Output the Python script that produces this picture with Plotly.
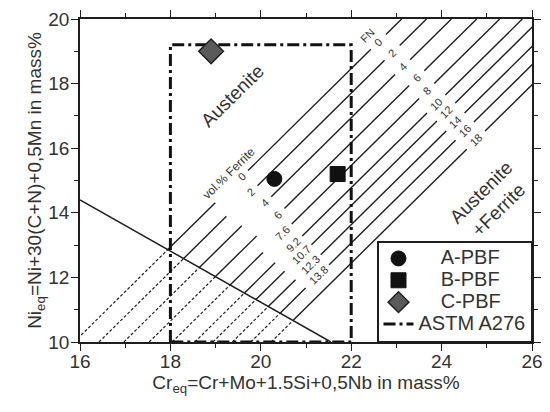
import plotly.graph_objects as go

# axis ranges
cr_range = [16, 26]
ni_range = [10, 20]

# iso-ferrite lines: Cr_eq where each line meets Ni_eq = 10, and the common slope
iso_cr_at_ni10 = [15.87, 16.42, 16.97, 17.53, 18.04, 18.54, 18.94, 19.37, 19.78, 20.23]
iso_slope = 1.38

fn_labels = ["0", "2", "4", "6", "8", "10", "12", "14", "16", "18"]
fn_label_ni = [19.29, 18.95, 18.51, 18.17, 17.77, 17.37, 17.12, 16.81, 16.53, 16.25]
vol_labels = ["0", "2", "4", "6", "7.6", "9.2", "10.7", "12.3", "13.8"]
vol_label_ni = [15.11, 14.64, 14.30, 13.93, 13.37, 13.00, 12.69, 12.38, 12.07]

# boundary line (iso lines are dashed below it)
boundary_cr = [16.0, 21.55]
boundary_ni = [14.4, 10.0]

# ASTM A276 window
astm_cr = [18, 18, 22, 22, 18]
astm_ni = [10, 19.2, 19.2, 10, 10]

samples = ["A-PBF", "B-PBF", "C-PBF"]
sample_cr = [20.3, 21.7, 18.9]
sample_ni = [15.05, 15.2, 19.0]

FONT = "Liberation Sans, Arial, sans-serif"
INK = "#1e1e1e"
TXT = "#333333"
ANG = -44.6

b_slope = (boundary_ni[1] - boundary_ni[0]) / (boundary_cr[1] - boundary_cr[0])


def iso_cr(k, ni):
    return iso_cr_at_ni10[k] + (ni - 10) / iso_slope


def boundary_cross(k):
    c = iso_cr_at_ni10[k]
    cr = (boundary_ni[0] - b_slope * boundary_cr[0] - 10 + iso_slope * c) / (iso_slope - b_slope)
    return 10 + iso_slope * (cr - c)


fig = go.Figure()

# iso-ferrite lines, dashed part below the boundary, gaps where the labels sit
dx, dy, sx, sy = [], [], [], []
for k in range(len(iso_cr_at_ni10)):
    nb = boundary_cross(k)
    dx += [iso_cr(k, 10), iso_cr(k, nb), None]
    dy += [10, nb, None]
    cuts = [nb]
    if k < len(vol_labels):
        v = vol_label_ni[k]
        cuts += [v - (0.80 - 0.05 * k), v + 0.16 + 0.04 * len(vol_labels[k])]
    f = fn_label_ni[k]
    g = 0.18 + 0.05 * len(fn_labels[k])
    cuts += [f - g, f + g, 20]
    for a, b in zip(cuts[0::2], cuts[1::2]):
        sx += [iso_cr(k, a), iso_cr(k, b), None]
        sy += [a, b, None]

fig.add_trace(go.Scatter(x=dx, y=dy, mode="lines", showlegend=False, hoverinfo="skip",
                         line=dict(color=INK, width=1.2, dash="3px,2px")))
fig.add_trace(go.Scatter(x=sx, y=sy, mode="lines", showlegend=False, hoverinfo="skip",
                         line=dict(color=INK, width=1.4)))
fig.add_trace(go.Scatter(x=boundary_cr, y=boundary_ni, mode="lines", showlegend=False,
                         hoverinfo="skip", line=dict(color=INK, width=1.5)))

# ASTM window
fig.add_trace(go.Scatter(x=astm_cr, y=astm_ni, mode="lines", legendrank=4,
                         name='<span style="font-size:20px">ASTM A276</span>',
                         line=dict(color="#111111", width=3, dash="12px,4px,3px,4px")))

# samples
marker_styles = [
    dict(symbol="circle", size=15, color="#111111", line=dict(color="#111111", width=1)),
    dict(symbol="square", size=15, color="#111111", line=dict(color="#111111", width=1)),
    dict(symbol="diamond", size=19, color="#5a5a5a", line=dict(color="#222222", width=1.5)),
]
pad = "\u00a0" * 4
for i, name in enumerate(samples):
    fig.add_trace(go.Scatter(x=[sample_cr[i]], y=[sample_ni[i]], mode="markers",
                             name='<span style="font-size:20px">' + pad + name + "</span>",
                             legendrank=i + 1, marker=marker_styles[i]))

# labels on the lines
for k, lab in enumerate(fn_labels):
    fig.add_annotation(x=iso_cr(k, fn_label_ni[k]), y=fn_label_ni[k], text=lab, showarrow=False,
                       textangle=ANG, font=dict(size=11, color=TXT, family=FONT))
for k, lab in enumerate(vol_labels):
    fig.add_annotation(x=iso_cr(k, vol_label_ni[k]), y=vol_label_ni[k], text=lab, showarrow=False,
                       textangle=ANG, font=dict(size=11, color=TXT, family=FONT))

fig.add_annotation(x=22.37, y=19.5, text="FN", showarrow=False, textangle=ANG,
                   font=dict(size=11, color=TXT, family=FONT))
fig.add_annotation(x=19.3, y=15.23, text="vol.% Ferrite", showarrow=False, textangle=ANG,
                   font=dict(size=12, color=TXT, family=FONT))
fig.add_annotation(x=19.38, y=17.62, text="Austenite", showarrow=False, textangle=ANG,
                   font=dict(size=19, color=TXT, family=FONT))
fig.add_annotation(x=25.07, y=14.37, text="Austenite<br>+Ferrite", showarrow=False, textangle=ANG,
                   font=dict(size=19, color=TXT, family=FONT))

axis_style = dict(showgrid=False, zeroline=False, showline=True, linewidth=1.5, linecolor=INK,
                  mirror="ticks", ticks="outside", ticklen=7, tickwidth=1.3, tickcolor=INK,
                  dtick=2, minor=dict(dtick=1, ticks="outside", ticklen=4, tickwidth=1.2, tickcolor=INK),
                  tickfont=dict(size=19, color=TXT, family=FONT), automargin=False)

fig.update_xaxes(range=cr_range, tick0=16, ticklabelstandoff=-6,
                 title=dict(text="Cr<sub>eq</sub>=Cr+Mo+1.5Si+0,5Nb in mass%", standoff=2,
                            font=dict(size=19, color=TXT, family=FONT)), **axis_style)
fig.update_yaxes(range=ni_range, tick0=10, ticklabelstandoff=-2,
                 title=dict(text="Ni<sub>eq</sub>=Ni+30(C+N)+0,5Mn in mass%", standoff=0,
                            font=dict(size=19, color=TXT, family=FONT)), **axis_style)

fig.update_layout(
    width=550, height=412,
    template="simple_white",
    paper_bgcolor="white", plot_bgcolor="white",
    margin=dict(l=80, r=18, t=19, b=70),
    font=dict(family=FONT, color=TXT),
    legend=dict(x=1, xanchor="right", y=0, yanchor="bottom", bgcolor="white",
                bordercolor=INK, borderwidth=1.5, font=dict(size=14.5, color=TXT, family=FONT),
                tracegroupgap=0, itemwidth=30),
)

fig.write_html("out.html", config={"displayModeBar": False},
               post_script="document.body.style.margin='0';")
